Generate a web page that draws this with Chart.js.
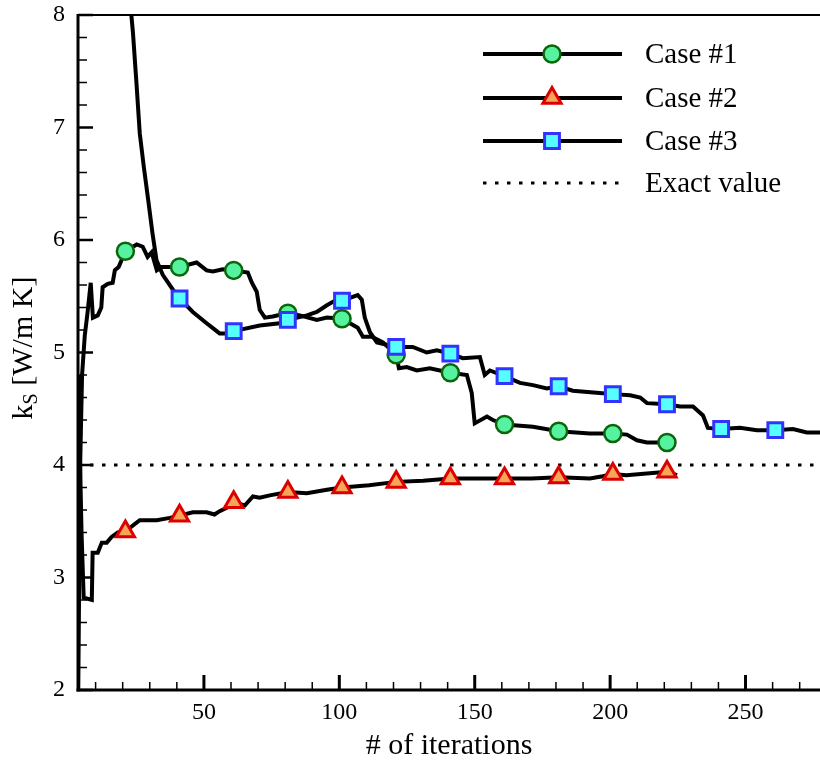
<!DOCTYPE html>
<html><head><meta charset="utf-8">
<script src="https://cdn.jsdelivr.net/npm/chart.js@4.4.0/dist/chart.umd.min.js"></script>
<style>html,body{margin:0;padding:0;background:#fff;overflow:hidden}#wrap{width:820px;height:765px}</style>
</head><body><div id="wrap"><canvas id="c" width="820" height="765"></canvas></div>
<script>
const FONT = "'Liberation Serif','Times New Roman',serif";

// ---- data ----
const seriesNames = ['Case #1', 'Case #2', 'Case #3', 'Exact value'];
const xAxisTitle = '# of iterations';
const xMajorTicks = [50, 100, 150, 200, 250];
const yMajorTicks = [2, 3, 4, 5, 6, 7, 8];
const xRange = [3.5, 277.5];
const yRange = [2, 8];
const exactValue = 4;

const case1X = [3.6,4.3,5.0,6.0,7.0,8.2,9.0,10.8,12.1,12.6,14.5,16.3,17.1,18.5,21,25.2,27.4,29.2,30.7,32.6,34.4,41,47.3,51.0,53.3,57.0,61,66.2,67.7,69.5,70.6,72.5,75.4,81,85.4,91.7,95.4,101,106.8,108.7,112.0,116.1,121,122,124.9,128.6,133.4,141,147.1,148.9,150.0,154.5,156.7,161,171.5,181,192.5,201,206.2,209.9,213.6,221];
const case1Y = [2.0,4.0,4.8,5.15,5.35,5.62,5.31,5.33,5.40,5.58,5.61,5.62,5.73,5.76,5.90,5.96,5.94,5.85,5.89,5.73,5.76,5.76,5.80,5.73,5.72,5.74,5.73,5.71,5.62,5.54,5.38,5.31,5.32,5.35,5.33,5.29,5.31,5.30,5.22,5.14,5.14,5.09,4.98,4.86,4.87,4.84,4.86,4.82,4.80,4.64,4.37,4.43,4.40,4.36,4.34,4.30,4.28,4.28,4.27,4.22,4.20,4.20];
const case1Markers = [21,41,61,81,101,121,141,161,181,201,221];

const case2X = [3.6,4.8,5.6,8.6,8.9,10.8,12.3,14.1,15.9,18.2,21,26.3,32.6,37.4,41,45.9,51.0,53.9,55.8,58.4,61,65.1,68.1,70.6,74.3,81,88.0,95.4,101,111,121,131,141,151,161,171,181,192.5,197.3,201,206,221,224.7];
const case2Y = [4.8,3.4,2.82,2.80,3.22,3.22,3.31,3.31,3.36,3.40,3.41,3.51,3.51,3.53,3.55,3.58,3.58,3.56,3.59,3.62,3.67,3.64,3.72,3.71,3.73,3.76,3.75,3.78,3.80,3.82,3.85,3.86,3.88,3.88,3.88,3.88,3.89,3.88,3.90,3.92,3.91,3.94,3.91];
const case2Markers = [21,41,61,81,101,121,141,161,181,201,221];

const case3X = [21,22,23.2,23.8,25.1,26.3,27.8,29.4,31.0,32.5,34.8,38.5,41,45.9,51.0,55.8,58.4,61,70.6,78.0,81,88.0,91.7,95.4,99.1,101,106.8,108.3,109.4,111.3,113.9,121,127.1,132.3,136.0,141,145.6,151.9,153.7,155.6,161,166.7,171.5,176.6,181,186.2,196.1,201,207.4,211.1,213.6,221,225.8,230.6,234.3,236.1,241,247.9,254.2,261,267.5,272.6,277.5];
const case3Y = [8.7,8.35,8.0,7.84,7.39,6.95,6.65,6.36,6.06,5.82,5.69,5.56,5.48,5.36,5.26,5.17,5.17,5.19,5.24,5.26,5.29,5.33,5.36,5.42,5.47,5.46,5.51,5.47,5.31,5.18,5.09,5.05,5.05,5.00,5.02,4.99,4.95,4.96,4.80,4.84,4.79,4.73,4.71,4.68,4.70,4.66,4.64,4.63,4.62,4.60,4.55,4.54,4.52,4.52,4.44,4.33,4.32,4.33,4.31,4.31,4.32,4.29,4.29];
const case3Markers = [21,41,61,81,101,121,141,161,181,201,221,241,261];

const toXY = (xs, ys) => xs.map((x, i) => ({x, y: ys[i]}));
const markerRadius = (list, r) => (ctx) => (ctx.raw && list.includes(ctx.raw.x)) ? r : 0;

const datasets = [
  {label: seriesNames[0], data: toXY(case1X, case1Y), borderColor:'#000', borderWidth:4, tension:0,
   pointStyle:'circle', pointRadius: markerRadius(case1Markers, 8.5), pointBackgroundColor:'#57F2A0',
   pointBorderColor:'#0B650B', pointBorderWidth:2.5, order:1},
  {label: seriesNames[1], data: toXY(case2X, case2Y), borderColor:'#000', borderWidth:4, tension:0,
   pointStyle:'triangle', pointRadius: markerRadius(case2Markers, 10.5), pointBackgroundColor:'#F7A558',
   pointBorderColor:'#DD0000', pointBorderWidth:3, order:2},
  {label: seriesNames[2], data: toXY(case3X, case3Y), borderColor:'#000', borderWidth:4, tension:0,
   pointStyle:'rect', pointRadius: markerRadius(case3Markers, 10.5), pointBackgroundColor:'#55FFFF',
   pointBorderColor:'#3333FF', pointBorderWidth:3, order:0},
  {label: seriesNames[3], data: toXY(xRange, [exactValue, exactValue]), borderColor:'#000', borderWidth:3,
   borderDash:[3.5, 8.5], pointRadius:0, tension:0, order:3}
];

const framePlugin = {
  id:'frame',
  afterDatasetsDraw(chart){
    const {ctx, chartArea:{left,right,top,bottom}} = chart;
    const xs = chart.scales.x, ys = chart.scales.y;
    ctx.save();
    ctx.strokeStyle = '#000'; ctx.lineCap = 'butt'; ctx.setLineDash([]);
    const seg = (x1,y1,x2,y2,w) => { ctx.lineWidth = w; ctx.beginPath(); ctx.moveTo(x1,y1); ctx.lineTo(x2,y2); ctx.stroke(); };
    seg(left, top - 1, left, bottom + 1.5, 3);
    seg(left - 1.5, bottom, right, bottom, 3);
    seg(left, top, right, top, 2);
    for (let i = 1; i * 10 <= xRange[1]; i++) {
      const v = i * 10; if (v < xRange[0]) continue;
      const px = xs.getPixelForValue(v);
      if (v % 50 === 0) seg(px, bottom, px, bottom - 15, 3);
      else seg(px, bottom, px, bottom - 8, 1.5);
    }
    for (let i = 0; i <= 30; i++) {
      const v = yRange[0] + i * 0.2;
      const py = ys.getPixelForValue(v);
      if (i % 5 === 0) seg(left, py, left + 15, py, 2.5);
      else seg(left, py, left + 9, py, 1.5);
    }
    ctx.restore();
  }
};

const legendPlugin = {
  id:'customLegend',
  afterDraw(chart){
    const ctx = chart.ctx;
    const rows = [54, 98, 141, 183];
    const x0 = 483, x1 = 622, xm = 552, tx = 645;
    ctx.save();
    chart.data.datasets.forEach((ds, i) => {
      const y = rows[i];
      ctx.strokeStyle = '#000'; ctx.lineWidth = ds.borderWidth; ctx.lineCap = 'butt';
      ctx.setLineDash(ds.borderDash || []);
      ctx.beginPath(); ctx.moveTo(x0, y); ctx.lineTo(x1, y); ctx.stroke();
      ctx.setLineDash([]);
      if (ds.pointStyle) {
        const r = ds.pointStyle === 'circle' ? 8.5 : 10.5;
        ctx.fillStyle = ds.pointBackgroundColor; ctx.strokeStyle = ds.pointBorderColor; ctx.lineWidth = ds.pointBorderWidth;
        Chart.helpers.drawPoint(ctx, {pointStyle: ds.pointStyle, rotation:0, radius:r, borderWidth: ds.pointBorderWidth}, xm, y);
      }
      ctx.fillStyle = '#000'; ctx.font = '29px ' + FONT; ctx.textBaseline = 'middle'; ctx.textAlign = 'left';
      ctx.fillText(ds.label, tx, y + 1);
    });
    ctx.restore();
  }
};

const yTitlePlugin = {
  id:'yTitle',
  afterDraw(chart){
    const ctx = chart.ctx;
    ctx.save();
    ctx.translate(32, 348); ctx.rotate(-Math.PI / 2);
    ctx.fillStyle = '#000'; ctx.textBaseline = 'alphabetic'; ctx.textAlign = 'left';
    const big = '30px ' + FONT, small = '20px ' + FONT;
    ctx.font = big; const w1 = ctx.measureText('k').width; const w3 = ctx.measureText(' [W/m K]').width;
    ctx.font = small; const w2 = ctx.measureText('S').width;
    let x = -(w1 + w2 + w3) / 2;
    ctx.font = big; ctx.fillText('k', x, 0); x += w1;
    ctx.font = small; ctx.fillText('S', x, 5); x += w2;
    ctx.font = big; ctx.fillText(' [W/m K]', x, 0);
    ctx.restore();
  }
};

new Chart(document.getElementById('c'), {
  type:'line',
  data:{datasets},
  options:{
    responsive:false, animation:false, devicePixelRatio:1, events:[],
    layout:{autoPadding:false, padding:{top:15, right:0, left:0, bottom:0}},
    plugins:{legend:{display:false}, tooltip:{enabled:false}},
    scales:{
      x:{type:'linear', min:xRange[0], max:xRange[1],
        afterBuildTicks:(s)=>{ s.ticks = xMajorTicks.map(v=>({value:v})); },
        afterFit:(s)=>{ s.height = 75; s.paddingLeft = 0; s.paddingRight = 0; s.paddingTop = 0; s.paddingBottom = 0; },
        grid:{display:false, drawTicks:false}, border:{display:false},
        ticks:{padding:8, font:{family:FONT, size:24}, color:'#000', maxRotation:0, autoSkip:false},
        title:{display:true, text:xAxisTitle, font:{family:FONT, size:30}, color:'#000', padding:{top:0, bottom:1}}
      },
      y:{type:'linear', min:yRange[0], max:yRange[1],
        afterBuildTicks:(s)=>{ s.ticks = yMajorTicks.map(v=>({value:v})); },
        afterFit:(s)=>{ s.width = 78; s.paddingLeft = 0; s.paddingRight = 0; s.paddingTop = 0; s.paddingBottom = 0; },
        grid:{display:false, drawTicks:false}, border:{display:false},
        ticks:{padding:13, font:{family:FONT, size:24}, color:'#000'}
      }
    }
  },
  plugins:[framePlugin, legendPlugin, yTitlePlugin]
});
</script>
</body></html>
